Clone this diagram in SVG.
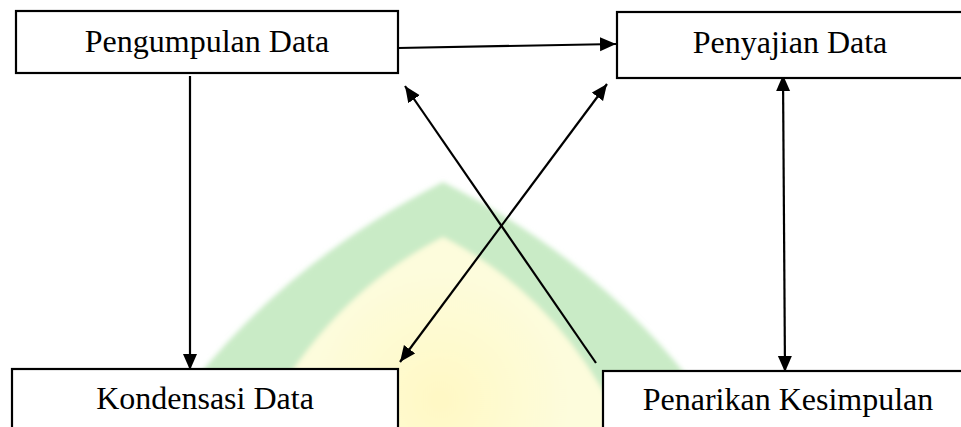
<svg xmlns="http://www.w3.org/2000/svg" width="961" height="427" viewBox="0 0 961 427">
  <style>
    .box { fill: #ffffff; stroke: #000000; stroke-width: 2.2; }
    .lbl { font-family: "Liberation Serif", "Times New Roman", serif; font-size: 32px; fill: #000000; text-anchor: middle; }
    .conn { stroke: #000000; stroke-width: 2.2; fill: none; }
  </style>
  <defs>
    <marker id="ah" markerUnits="userSpaceOnUse" markerWidth="17" markerHeight="15" refX="16" refY="7" orient="auto-start-reverse">
      <path d="M0,0 L16,7 L0,14 Z" fill="#000000"/>
    </marker>
    <filter id="soft" x="-10%" y="-10%" width="120%" height="120%">
      <feGaussianBlur stdDeviation="2.5"/>
    </filter>
    <radialGradient id="yg" cx="440" cy="400" r="130" gradientUnits="userSpaceOnUse">
      <stop offset="0" stop-color="#fff8c4"/>
      <stop offset="1" stop-color="#fdfcdc"/>
    </radialGradient>
  </defs>

  <rect x="0" y="0" width="961" height="427" fill="#ffffff"/>

  <g id="watermark" filter="url(#soft)">
    <path d="M443,182 Q596,260 690,380 L705,440 L180,440 L195,380 Q290,260 443,182 Z" fill="#c9ebc6"/>
    <path d="M443,237 Q566,300 628,440 L252,440 Q320,300 443,237 Z" fill="url(#yg)"/>
  </g>

  <g id="connectors">
    <line class="conn" x1="398" y1="48" x2="616" y2="44" marker-end="url(#ah)"/>
    <line class="conn" x1="190" y1="76" x2="190" y2="370" marker-end="url(#ah)"/>
    <line class="conn" x1="596" y1="363" x2="405" y2="86" marker-end="url(#ah)"/>
    <line class="conn" x1="400" y1="362" x2="607" y2="84" marker-start="url(#ah)" marker-end="url(#ah)"/>
    <line class="conn" x1="783" y1="75" x2="785" y2="372" marker-start="url(#ah)" marker-end="url(#ah)"/>
  </g>

  <g id="node-pengumpulan">
    <rect class="box" x="16" y="11" width="382" height="62"/>
    <text class="lbl" x="207" y="52">Pengumpulan Data</text>
  </g>
  <g id="node-penyajian">
    <rect class="box" x="617" y="12" width="346" height="66"/>
    <text class="lbl" x="790" y="53">Penyajian Data</text>
  </g>
  <g id="node-kondensasi">
    <rect class="box" x="12" y="369" width="386" height="70"/>
    <text class="lbl" x="205" y="409">Kondensasi Data</text>
  </g>
  <g id="node-penarikan">
    <rect class="box" x="603" y="371" width="372" height="70"/>
    <text class="lbl" x="788" y="410">Penarikan Kesimpulan</text>
  </g>
</svg>
